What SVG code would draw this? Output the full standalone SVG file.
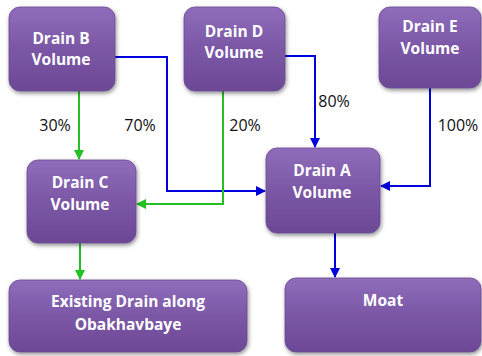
<svg xmlns="http://www.w3.org/2000/svg" width="482" height="356" viewBox="0 0 482 356">
<defs>
<linearGradient id="g" x1="0" y1="0" x2="0" y2="1">
<stop offset="0" stop-color="#8f6dbb"/>
<stop offset="0.5" stop-color="#7b57a6"/>
<stop offset="1" stop-color="#6c4895"/>
</linearGradient>
<filter id="sh" x="-10%" y="-10%" width="125%" height="130%">
<feGaussianBlur in="SourceAlpha" stdDeviation="2"/>
<feOffset dx="1" dy="2" result="b"/>
<feComponentTransfer><feFuncA type="linear" slope="0.45"/></feComponentTransfer>
<feMerge><feMergeNode/><feMergeNode in="SourceGraphic"/></feMerge>
</filter>
<marker id="ab" markerWidth="10" markerHeight="10" refX="9" refY="5" orient="auto" markerUnits="userSpaceOnUse">
<path d="M0,0 L10,5 L0,10 Z" fill="#0000dd"/>
</marker>
<marker id="ag" markerWidth="10" markerHeight="10" refX="9" refY="5" orient="auto" markerUnits="userSpaceOnUse">
<path d="M0,0 L10,5 L0,10 Z" fill="#22c022"/>
</marker>
</defs>
<style>
.n{fill:url(#g);stroke:#6a4a90;stroke-width:0.8;filter:url(#sh)}
.t{font-family:"Open Sans","Liberation Sans",sans-serif;font-weight:bold;font-size:15.5px;fill:#ffffff;text-anchor:middle}
.l{font-family:"Open Sans","Liberation Sans",sans-serif;font-size:16px;fill:#111111;text-anchor:middle}
.b{fill:none;stroke:#0000dd;stroke-width:2;marker-end:url(#ab)}
.gr{fill:none;stroke:#22c022;stroke-width:2;marker-end:url(#ag)}
</style>
<rect width="482" height="356" fill="#ffffff"/>
<g id="connectors">
<path class="b" d="M115,57 H167 V191 H265"/>
<path class="gr" d="M79,91 V159"/>
<path class="gr" d="M223,91 V204 H137"/>
<path class="b" d="M285,56 H315 V147"/>
<path class="b" d="M430,88 V186 H381"/>
<path class="gr" d="M80,243 V279"/>
<path class="b" d="M335,233 V277"/>
<text class="l" x="55" y="131">30%</text>
<text class="l" x="140" y="131">70%</text>
<text class="l" x="245" y="131">20%</text>
<text class="l" x="334" y="107">80%</text>
<text class="l" x="458" y="131">100%</text>
</g>
<g id="drainB"><rect class="n" x="9" y="7" width="106" height="84" rx="11"/><text class="t" x="61" y="44">Drain B</text><text class="t" x="61" y="65">Volume</text></g>
<g id="drainD"><rect class="n" x="184" y="7" width="101" height="84" rx="11"/><text class="t" x="234" y="37">Drain D</text><text class="t" x="234" y="58">Volume</text></g>
<g id="drainE"><rect class="n" x="379" y="7" width="102" height="81" rx="11"/><text class="t" x="430" y="32">Drain E</text><text class="t" x="430" y="54">Volume</text></g>
<g id="drainC"><rect class="n" x="27" y="160" width="109" height="83" rx="11"/><text class="t" x="80" y="188">Drain C</text><text class="t" x="80" y="210">Volume</text></g>
<g id="drainA"><rect class="n" x="266" y="148" width="114" height="85" rx="11"/><text class="t" x="322" y="176">Drain A</text><text class="t" x="322" y="198">Volume</text></g>
<g id="existing"><rect class="n" x="9" y="280" width="238" height="72" rx="11"/><text class="t" x="128" y="307">Existing Drain along</text><text class="t" x="128" y="330">Obakhavbaye</text></g>
<g id="moat"><rect class="n" x="285" y="278" width="196" height="74" rx="11"/><text class="t" x="383" y="306">Moat</text></g>
</svg>
